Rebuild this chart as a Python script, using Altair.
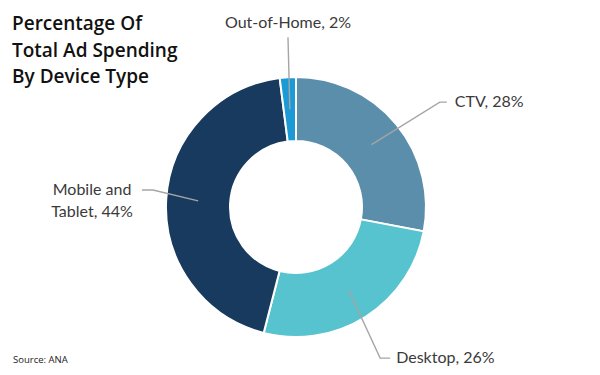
import altair as alt
import pandas as pd
import numpy as np

# ---- data ----
categories = ["CTV", "Desktop", "Mobile and Tablet", "Out-of-Home"]
shares = [28, 26, 44, 2]
label_texts = ["CTV, 28%", "Desktop, 26%", "Mobile and\nTablet, 44%", "Out-of-Home, 2%"]
colors = ["#5b8eab", "#56c3ce", "#173a5e", "#1b9ad5"]
title_text = "Percentage Of\nTotal Ad Spending\nBy Device Type"
source_text = "Source: ANA"

# ---- layout / style ----
W, H = 584, 359
CX, CY = 288, 199
R_IN, R_OUT = 66, 130
R_MID = (R_IN + R_OUT) / 2
# per-label leader layout: angle nudge (deg), elbow radius, tail dx, text dx, text dy, align, baseline
label_layout = {
    "CTV": dict(nudge=3.5, r=178, tail=7, tx=15, ty=0, align="left", baseline="middle"),
    "Desktop": dict(nudge=3.3, r=173, tail=10, tx=16, ty=0, align="left", baseline="middle"),
    "Mobile and Tablet": dict(nudge=3.2, r=144, tail=-11, tx=-61, ty=0, align="center", baseline="middle"),
    "Out-of-Home": dict(nudge=0.9, r=170, tail=0, tx=0, ty=-9, align="center", baseline="alphabetic"),
}

df = pd.DataFrame({"category": categories, "share": shares, "label": label_texts,
                   "idx": list(range(len(categories)))})

# leader line geometry derived from the shares
total = float(sum(shares))
cum = np.cumsum(shares)
line_rows, text_rows = [], []
for i, cat in enumerate(categories):
    mid = (cum[i] - shares[i] / 2) / total * 360.0
    lay = label_layout[cat]
    a0 = np.radians(mid)
    a1 = np.radians(mid + lay["nudge"])
    p0 = (CX + R_MID * np.sin(a0), CY - R_MID * np.cos(a0))
    p1 = (CX + lay["r"] * np.sin(a1), CY - lay["r"] * np.cos(a1))
    p2 = (p1[0] + lay["tail"], p1[1])
    for k, p in enumerate([p0, p1, p2]):
        line_rows.append({"category": cat, "pt": k, "x": p[0], "y": p[1]})
    text_rows.append({"category": cat, "label": label_texts[i],
                      "x": p1[0] + lay["tx"], "y": p1[1] + lay["ty"]})
lines_df = pd.DataFrame(line_rows)
texts_df = pd.DataFrame(text_rows)

xs = alt.Scale(domain=[0, W], range=[0, W], nice=False, zero=False)
ys = alt.Scale(domain=[0, H], range=[0, H], nice=False, zero=False)

arc = alt.Chart(df).mark_arc(innerRadius=R_IN, outerRadius=R_OUT, stroke="white", strokeWidth=2).encode(
    theta=alt.Theta("share:Q", stack=True),
    color=alt.Color("category:N", scale=alt.Scale(domain=categories, range=colors), legend=None),
    order=alt.Order("idx:Q"),
    x=alt.value(CX), y=alt.value(CY),
)

leaders = alt.Chart(lines_df).mark_line(color="#a5a5a5", strokeWidth=1.4).encode(
    x=alt.X("x:Q", scale=xs, axis=None),
    y=alt.Y("y:Q", scale=ys, axis=None),
    detail="category:N",
    order="pt:Q",
)

label_layers = []
for cat in categories:
    lay = label_layout[cat]
    label_layers.append(
        alt.Chart(texts_df[texts_df.category == cat]).mark_text(
            font="Lato", fontSize=16, color="#3a3a3a", align=lay["align"],
            baseline=lay["baseline"], lineBreak="\n", lineHeight=22,
        ).encode(
            x=alt.X("x:Q", scale=xs, axis=None),
            y=alt.Y("y:Q", scale=ys, axis=None),
            text="label:N",
        )
    )

title = alt.Chart(pd.DataFrame({"t": [title_text]})).mark_text(
    font="Open Sans", fontSize=19, fontWeight=600, color="#111111", align="left",
    baseline="alphabetic", lineBreak="\n", lineHeight=26.5,
).encode(text="t:N", x=alt.value(4), y=alt.value(22))

source = alt.Chart(pd.DataFrame({"t": [source_text]})).mark_text(
    font="Open Sans", fontSize=9.5, color="#222222", align="left", baseline="alphabetic",
).encode(text="t:N", x=alt.value(5), y=alt.value(355))

chart = alt.layer(arc, leaders, *label_layers, title, source).properties(
    width=W, height=H, autosize=alt.AutoSizeParams(type="none"), padding=0,
    background="white",
).configure_view(stroke=None)

chart.save("out.html", embed_options={"renderer": "svg", "actions": False})
